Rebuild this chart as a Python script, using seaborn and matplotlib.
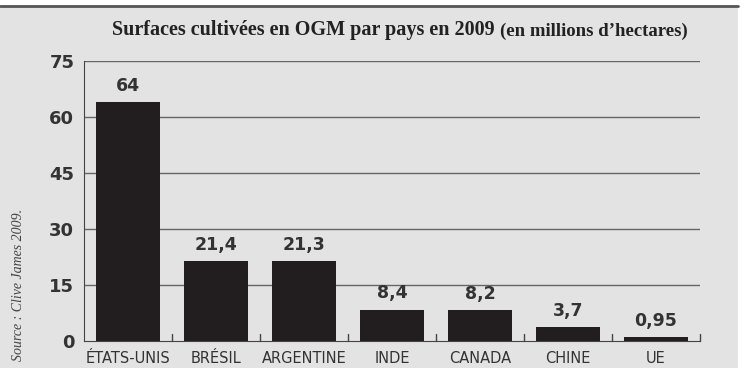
import matplotlib
matplotlib.use("Agg")
import matplotlib.pyplot as plt
import matplotlib.patches as mpatches
from matplotlib import font_manager
import pandas as pd
import seaborn as sns

pays = ["ÉTATS-UNIS", "BRÉSIL", "ARGENTINE", "INDE", "CANADA", "CHINE", "UE"]
surfaces = [64, 21.4, 21.3, 8.4, 8.2, 3.7, 0.95]
etiquettes = ["64", "21,4", "21,3", "8,4", "8,2", "3,7", "0,95"]
yticks = [0, 15, 30, 45, 60, 75]

df = pd.DataFrame({"pays": pays, "surface": surfaces})

sns.set_style("white")
installed = {f.name for f in font_manager.fontManager.ttflist}
narrow = "Liberation Sans Narrow" if "Liberation Sans Narrow" in installed else "DejaVu Sans"
plt.rcParams["font.family"] = [narrow, "DejaVu Sans"]

bg = "#e3e3e3"
dark = "#221e1f"
txt = "#333333"

fig = plt.figure(figsize=(7.47, 3.79), dpi=100, facecolor="white")
# grey panel + top rule
fig.patches.append(mpatches.Rectangle((0, 1 - 368 / 379), 738 / 747, 362 / 379,
                                      transform=fig.transFigure, facecolor=bg,
                                      edgecolor="none", zorder=-5))
fig.lines.append(plt.Line2D([0, 738 / 747], [1 - 5.5 / 379] * 2, transform=fig.transFigure,
                            color="#555555", lw=2, zorder=-4))

ax = fig.add_axes([84 / 747, 1 - 341 / 379, 616 / 747, 280 / 379])
ax.set_zorder(2)
ax.set_facecolor(bg)

sns.barplot(data=df, x="pays", y="surface", color=dark, width=0.73,
            saturation=1, linewidth=0, ax=ax, zorder=3)

ax.set_xlim(-0.5, 6.5)
ax.set_ylim(0, 75)
ax.set_yticks(yticks)
for y in yticks[1:]:
    ax.axhline(y, color="#666666", lw=1, zorder=1)

for i, (v, lab) in enumerate(zip(surfaces, etiquettes)):
    ax.text(i, v + 2.0, lab, ha="center", va="bottom", fontsize=12.5,
            fontweight="bold", color=txt)

for side in ["top", "right"]:
    ax.spines[side].set_visible(False)
ax.spines["left"].set_color("#444444")
ax.spines["bottom"].set_color("#444444")

ax.set_xlabel("")
ax.set_ylabel("")
ax.tick_params(axis="y", direction="in", length=7, labelsize=13, colors="#444444",
               labelcolor=txt, pad=7)
for lab in ax.get_yticklabels():
    lab.set_fontweight("bold")
ax.tick_params(axis="x", length=0, labelsize=10.5, labelcolor=txt, pad=7)
ax.set_xticks(range(len(pays)))
ax.set_xticklabels(pays)
for k in range(len(pays)):
    ax.plot([k + 0.5, k + 0.5], [0, 1.8], color="#444444", lw=1, clip_on=False, zorder=2)

fig.text(500 / 747, 1 - 30 / 379, "Surfaces cultivées en OGM par pays en 2009 ",
         family="Liberation Serif", fontweight="bold", fontsize=14.5,
         ha="right", va="center", color="#222222")
fig.text(500 / 747, 1 - 31 / 379, "(en millions d’hectares)",
         family="Liberation Serif", fontweight="bold", fontsize=13.5,
         ha="left", va="center", color="#222222")

fig.text(19 / 747, 1 - 285 / 379, "Source : Clive James 2009.",
         family="Liberation Serif", style="italic", fontsize=10,
         rotation=90, ha="center", va="center", color="#444444")

fig.savefig("out.png", dpi=100, facecolor="white")
